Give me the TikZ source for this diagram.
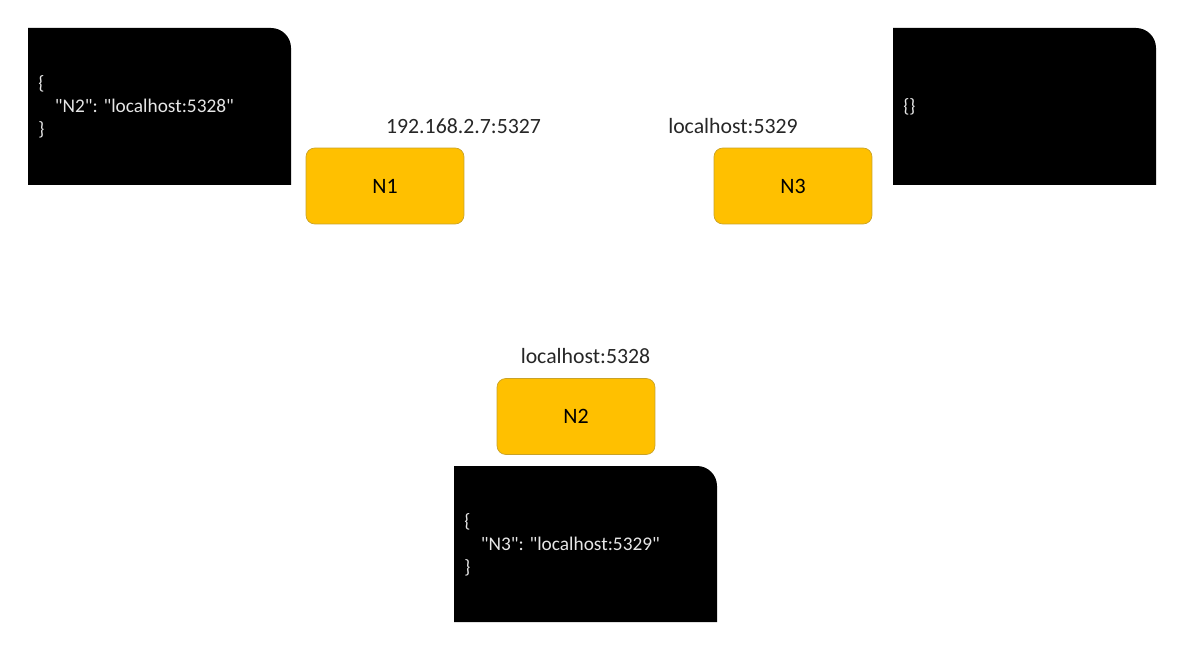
\documentclass[tikz,border=0pt]{standalone}
\usepackage{fontspec}
\setmainfont{Carlito}
\usetikzlibrary{positioning}

\definecolor{peerfill}{HTML}{FFC000}
\definecolor{peerline}{HTML}{C9A227}
\definecolor{addrtext}{HTML}{262626}
\definecolor{jsontext}{HTML}{E6E6E6}

\tikzset{
	peer/.style={draw=peerline, fill=peerfill, rounded corners=5pt, minimum width=3.16cm, minimum height=1.52cm, font=\fontsize{12.5}{15}\selectfont},
	addr/.style={text=addrtext, inner sep=0pt, font=\fontsize{12.4}{15}\selectfont},
	json/.style={text=jsontext, anchor=west, inner sep=0pt, align=left, font=\fontsize{11}{13}\selectfont},
	panel/.style={fill=black}
}

\begin{document}
\begin{tikzpicture}[x=0.02cm, y=0.02cm]
	\useasboundingbox (0,0) rectangle (1193,660);
	
	% config panels
	\fill[panel] (28,475) -- (28,632) -- (271,632) arc[start angle=90, end angle=0, radius=20] -- (291,475) -- cycle;
	\fill[panel] (893,475) -- (893,632) -- (1136,632) arc[start angle=90, end angle=0, radius=20] -- (1156,475) -- cycle;
	\fill[panel] (454,38) -- (454,194) -- (697,194) arc[start angle=90, end angle=0, radius=20] -- (717,38) -- cycle;
	
	\node[json] (cfg1) at (38,553) {\{\\\hspace{0.85em}\textquotedbl N2\textquotedbl: \textquotedbl localhost:5328\textquotedbl\\\}};
	\node[json] (cfg3) at (903,553) {\{\}};
	\node[json] (cfg2) at (464,115) {\{\\\hspace{0.85em}\textquotedbl N3\textquotedbl: \textquotedbl localhost:5329\textquotedbl\\\}};
	
	% nodes
	\node[peer] (n1) at (385,474) {N1};
	\node[peer] (n3) at (793,474) {N3};
	\node[peer] (n2) at (576,243.5) {N2};
	
	\node[addr] (a1) at (463.5,534) {192.168.2.7:5327};
	\node[addr] (a3) at (733,534) {localhost:5329};
	\node[addr] (a2) at (585.5,304) {localhost:5328};
\end{tikzpicture}
\end{document}
